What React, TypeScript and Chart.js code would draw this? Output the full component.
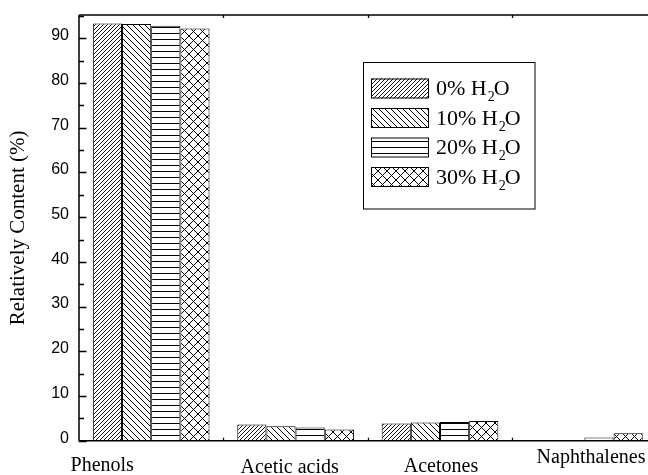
import React, { useEffect, useRef } from 'react';
import { Chart, registerables } from 'chart.js';

Chart.register(...registerables);

const categories = ['Phenols', 'Acetic acids', 'Acetones', 'Naphthalenes'];
const seriesLabels = ['0% H₂O', '10% H₂O', '20% H₂O', '30% H₂O'];
const water0 = [93.3, 3.6, 3.85, 0.0];
const water10 = [93.2, 3.25, 4.05, 0.15];
const water20 = [92.8, 2.95, 4.2, 0.7];
const water30 = [92.2, 2.5, 4.4, 1.65];
const yTickValues = [0, 10, 20, 30, 40, 50, 60, 70, 80, 90];
const yTitle = 'Relatively Content (%)';

// layout / style constants
const SERIF = "'Liberation Serif', 'Times New Roman', serif";
const SANS = "'Liberation Sans', Arial, sans-serif";
const LABEL_DX = [-49, -6, 1, 6.6];
const LABEL_DY = [30, 32.6, 31.6, 22.6];
const PATTERN_KINDS = ['fwd', 'back', 'horiz', 'cross'];

function makePattern(ctx: CanvasRenderingContext2D, kind: string): CanvasPattern | string {
  const c = document.createElement('canvas');
  let s = 6;
  if (kind === 'fwd') s = 4;
  if (kind === 'cross') s = 9;
  c.width = s;
  c.height = s;
  const g = c.getContext('2d')!;
  g.fillStyle = '#fff';
  g.fillRect(0, 0, s, s);
  g.strokeStyle = '#000';
  g.lineWidth = kind === 'fwd' ? 0.9 : 1;
  g.beginPath();
  const fwd = () => {
    g.moveTo(-1, s + 1); g.lineTo(s + 1, -1);
    g.moveTo(-1, 1); g.lineTo(1, -1);
    g.moveTo(s - 1, s + 1); g.lineTo(s + 1, s - 1);
  };
  const back = () => {
    g.moveTo(-1, -1); g.lineTo(s + 1, s + 1);
    g.moveTo(-1, s - 1); g.lineTo(1, s + 1);
    g.moveTo(s - 1, -1); g.lineTo(s + 1, 1);
  };
  if (kind === 'fwd') fwd();
  if (kind === 'back') back();
  if (kind === 'cross') { fwd(); back(); }
  if (kind === 'horiz') { g.moveTo(0, 3.5); g.lineTo(s, 3.5); }
  g.stroke();
  return ctx.createPattern(c, 'repeat') || '#fff';
}

const framePlugin = {
  id: 'frameAndLabels',
  afterDraw(chart: any) {
    const { ctx, chartArea: a, scales } = chart;
    const xs = scales.x;
    const ys = scales.y;
    ctx.save();
    ctx.strokeStyle = '#000';
    ctx.lineWidth = 1.5;
    ctx.beginPath();
    ctx.moveTo(a.left, a.top); ctx.lineTo(a.right, a.top);
    ctx.moveTo(a.left, a.top); ctx.lineTo(a.left, a.bottom); ctx.lineTo(a.right, a.bottom);
    ctx.moveTo(a.right, a.top); ctx.lineTo(a.right, a.bottom);
    ctx.stroke();

    // y ticks (major + minor), inward
    ctx.lineWidth = 1.3;
    ctx.beginPath();
    yTickValues.forEach((v) => {
      const py = Math.round(ys.getPixelForValue(v)) + 0.5;
      ctx.moveTo(a.left, py); ctx.lineTo(a.left + 7.5, py);
      const m = v + 5;
      if (m <= ys.max) {
        const pm = Math.round(ys.getPixelForValue(m)) + 0.5;
        ctx.moveTo(a.left, pm); ctx.lineTo(a.left + 5, pm);
      }
    });
    // x ticks at category boundaries, bottom and top
    for (let i = 1; i < categories.length; i++) {
      const px = Math.round((xs.getPixelForValue(i - 1) + xs.getPixelForValue(i)) / 2) + 0.5;
      ctx.moveTo(px, a.bottom); ctx.lineTo(px, a.bottom - 3);
      ctx.moveTo(px, a.top); ctx.lineTo(px, a.top + 3);
    }
    ctx.stroke();

    // category labels
    ctx.fillStyle = '#000';
    ctx.font = `20px ${SERIF}`;
    ctx.textAlign = 'center';
    ctx.textBaseline = 'alphabetic';
    chart.data.labels.forEach((lab: string, i: number) => {
      const px = xs.getPixelForValue(i) + LABEL_DX[i];
      ctx.fillText(lab, px, a.bottom + LABEL_DY[i]);
    });

    // y title
    ctx.save();
    ctx.translate(18, (a.top + a.bottom) / 2);
    ctx.rotate(-Math.PI / 2);
    ctx.font = `21px ${SERIF}`;
    ctx.textAlign = 'center';
    ctx.textBaseline = 'middle';
    ctx.fillText(yTitle, 0, 0);
    ctx.restore();

    // legend
    const lx = 363.5, ly = 62.5, lw = 171.5, lh = 146.5;
    ctx.lineWidth = 1;
    ctx.strokeStyle = '#000';
    ctx.strokeRect(lx, ly, lw, lh);
    chart.data.datasets.forEach((ds: any, i: number) => {
      const by = 78.5 + i * 29.5;
      const bx = 371;
      ctx.fillStyle = ds.backgroundColor;
      ctx.fillRect(bx, by, 58, 20);
      ctx.strokeRect(bx + 0.5, by + 0.5, 57, 19);
      const parts = String(ds.label).split('₂');
      const ty = by + 10;
      let tx = 436;
      ctx.fillStyle = '#000';
      ctx.textAlign = 'left';
      ctx.textBaseline = 'middle';
      ctx.font = `22px ${SERIF}`;
      ctx.fillText(parts[0], tx, ty + 1);
      tx += ctx.measureText(parts[0]).width + 1;
      if (parts.length > 1) {
        ctx.font = `14px ${SERIF}`;
        ctx.fillText('2', tx, ty + 9);
        tx += ctx.measureText('2').width - 1;
        ctx.font = `22px ${SERIF}`;
        ctx.fillText(parts[1], tx, ty + 1);
      }
    });
    ctx.restore();
  },
};

export default function App() {
  const ref = useRef<HTMLCanvasElement | null>(null);
  useEffect(() => {
    const canvas = ref.current!;
    const ctx = canvas.getContext('2d')!;
    const series = [water0, water10, water20, water30];
    const chart = new Chart(canvas, {
      type: 'bar',
      data: {
        labels: categories,
        datasets: series.map((d, i) => ({
          label: seriesLabels[i],
          data: d,
          backgroundColor: makePattern(ctx, PATTERN_KINDS[i]) as any,
          borderColor: '#000',
          borderWidth: 1,
          categoryPercentage: 0.808,
          barPercentage: 1.0,
        })),
      },
      options: {
        animation: false,
        responsive: true,
        maintainAspectRatio: false,
        layout: { padding: { top: 10.7, right: 23.4, left: 0, bottom: 0 } },
        plugins: { legend: { display: false }, tooltip: { enabled: false }, title: { display: false } },
        scales: {
          x: {
            type: 'category',
            offset: true,
            grid: { display: false, drawTicks: false },
            border: { display: false },
            ticks: { display: false },
            afterFit: (s: any) => { s.height = 34.3; },
          },
          y: {
            min: 0,
            max: 95.2,
            grid: { display: false, drawTicks: false },
            border: { display: false },
            afterBuildTicks: (s: any) => { s.ticks = yTickValues.map((v) => ({ value: v })); },
            afterFit: (s: any) => { s.width = 79; },
            ticks: {
              padding: 10,
              color: '#000',
              font: { family: SANS, size: 16, lineHeight: 0.32 },
              callback: (v: any) => [String(v), ''],
            },
          },
        },
      },
      plugins: [framePlugin],
    });
    return () => chart.destroy();
  }, []);
  return (
    <div style={{ position: 'fixed', left: 0, top: 0, width: 648, height: 475, overflow: 'hidden', background: '#fff' }}>
      <div style={{ position: 'relative', width: 680, height: 475 }}>
        <canvas ref={ref} />
      </div>
    </div>
  );
}
